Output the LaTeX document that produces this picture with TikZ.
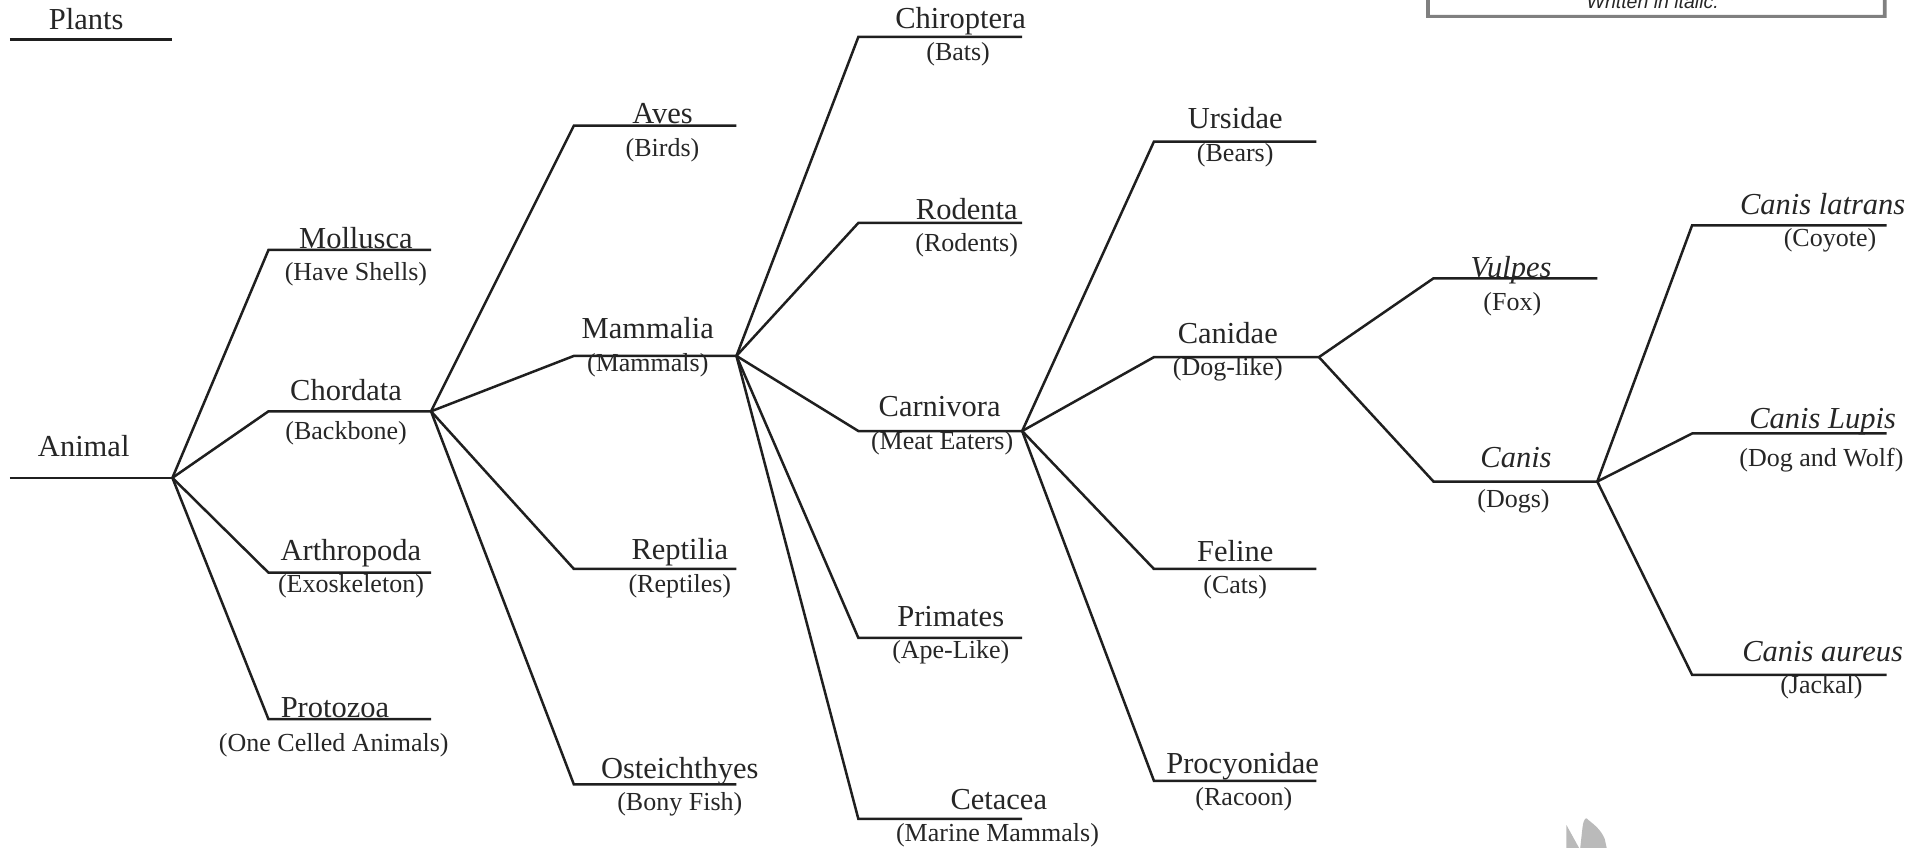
\documentclass[tikz,border=0pt]{standalone}
\usepackage{fontspec}
\setmainfont{Liberation Serif}
\newfontfamily\arialf{Liberation Sans}
\begin{document}
\begin{tikzpicture}[x=1.2315pt,y=-1.2315pt,
  branch/.style={line width=2.5pt, line join=miter, line cap=butt, draw=black!88},
  mainlbl/.style={font=\fontsize{30.5}{36}\selectfont, anchor=base, inner sep=0pt, text=black!85},
  sublbl/.style={font=\fontsize{26}{31}\selectfont, anchor=base, inner sep=0pt, text=black!85},
  ital/.style={font=\fontsize{30.5}{36}\selectfont\itshape}]
\useasboundingbox (0,0) rectangle (1568,688);

% ---- coordinates of the horizontal bars ----
\foreach \n/\y/\a/\b in {plants/32/8/140, animal/388/8/140,
  mollusca/203/218/350, chordata/334/218/350, arthropoda/465/218/350, protozoa/584/218/350,
  aves/102/466/598, mammalia/289/466/598, reptilia/462/466/598, osteichthyes/637/466/598,
  chiroptera/30/697/830, rodenta/181/697/830, carnivora/350/697/830, primates/518/697/830, cetacea/665/697/830,
  ursidae/115/937/1069, canidae/290/937/1071, feline/462/937/1069, procyonidae/634/937/1069,
  vulpes/226/1164/1297, canis/391/1164/1297,
  latrans/183/1374/1532, lupis/352/1374/1532, aureus/548/1374/1532}
  {\coordinate (\n-l) at (\a,\y); \coordinate (\n-r) at (\b,\y);}

% ---- bars ----
\draw[branch] (plants-l) -- (plants-r);
\draw[branch] (animal-l) -- (animal-r);
\foreach \p/\c in {animal/mollusca, animal/chordata, animal/arthropoda, animal/protozoa,
  chordata/aves, chordata/mammalia, chordata/reptilia, chordata/osteichthyes,
  mammalia/chiroptera, mammalia/rodenta, mammalia/carnivora, mammalia/primates, mammalia/cetacea,
  carnivora/ursidae, carnivora/canidae, carnivora/feline, carnivora/procyonidae,
  canidae/vulpes, canidae/canis,
  canis/latrans, canis/lupis, canis/aureus}
  {\draw[branch] (\p-r) -- (\c-l) -- (\c-r);}

% ---- labels ----
\node[mainlbl] (tPlants) at (70,24) {Plants};
\node[mainlbl] (tAnimal) at (68,371) {Animal};
\node[mainlbl] (tMollusca) at (289,202) {Mollusca};
\node[sublbl] (sMollusca) at (289,228) {(Have Shells)};
\node[mainlbl] (tChordata) at (281,325) {Chordata};
\node[sublbl] (sChordata) at (281,357) {(Backbone)};
\node[mainlbl] (tArthropoda) at (285,455) {Arthropoda};
\node[sublbl] (sArthropoda) at (285,481) {(Exoskeleton)};
\node[mainlbl] (tProtozoa) at (272,583) {Protozoa};
\node[sublbl] (sProtozoa) at (271,610) {(One Celled Animals)};

\node[mainlbl] (tAves) at (538,100) {Aves};
\node[sublbl] (sAves) at (538,127) {(Birds)};
\node[mainlbl] (tMammalia) at (526,275) {Mammalia};
\node[sublbl] (sMammalia) at (526,302) {(Mammals)};
\node[mainlbl] (tReptilia) at (552,454) {Reptilia};
\node[sublbl] (sReptilia) at (552,481) {(Reptiles)};
\node[mainlbl] (tOsteichthyes) at (552,632) {Osteichthyes};
\node[sublbl] (sOsteichthyes) at (552,658) {(Bony Fish)};

\node[mainlbl] (tChiroptera) at (780,23) {Chiroptera};
\node[sublbl] (sChiroptera) at (778,49) {(Bats)};
\node[mainlbl] (tRodenta) at (785,178) {Rodenta};
\node[sublbl] (sRodenta) at (785,204) {(Rodents)};
\node[mainlbl] (tCarnivora) at (763,338) {Carnivora};
\node[sublbl] (sCarnivora) at (765,365) {(Meat Eaters)};
\node[mainlbl] (tPrimates) at (772,509) {Primates};
\node[sublbl] (sPrimates) at (772,535) {(Ape-Like)};
\node[mainlbl] (tCetacea) at (811,657) {Cetacea};
\node[sublbl] (sCetacea) at (810,683) {(Marine Mammals)};

\node[mainlbl] (tUrsidae) at (1003,104) {Ursidae};
\node[sublbl] (sUrsidae) at (1003,131) {(Bears)};
\node[mainlbl] (tCanidae) at (997,279) {Canidae};
\node[sublbl] (sCanidae) at (997,305) {(Dog-like)};
\node[mainlbl] (tFeline) at (1003,456) {Feline};
\node[sublbl] (sFeline) at (1003,482) {(Cats)};
\node[mainlbl] (tProcyonidae) at (1009,628) {Procyonidae};
\node[sublbl] (sProcyonidae) at (1010,654) {(Racoon)};

\node[mainlbl,ital] (tVulpes) at (1227,225) {Vulpes};
\node[sublbl] (sVulpes) at (1228,252) {(Fox)};
\node[mainlbl,ital] (tCanis) at (1231,380) {Canis};
\node[sublbl] (sCanis) at (1229,412) {(Dogs)};

\node[mainlbl,ital] (tLatrans) at (1480,174) {Canis latrans};
\node[sublbl] (sLatrans) at (1486,200) {(Coyote)};
\node[mainlbl,ital] (tLupis) at (1480,348) {Canis Lupis};
\node[sublbl] (sLupis) at (1479,379) {(Dog and Wolf)};
\node[mainlbl,ital] (tAureus) at (1480,537) {Canis aureus};
\node[sublbl] (sAureus) at (1479,563) {(Jackal)};

% ---- legend box (cut by the top edge) ----
\fill[black!50, even odd rule] (1158,-6) rectangle (1532,14.5) (1161,-6) rectangle (1529,12);
\node[anchor=base, inner sep=0pt, font=\arialf\fontsize{19.5}{23}\selectfont\itshape, text=black!85] (legend) at (1342,7.3) {Written in italic.};

% ---- grey shape at the bottom edge ----
\fill[black!27] (1272,670) -- (1272,690) -- (1283,690) -- cycle;
\fill[black!27] (1283,690) -- (1285,672) .. controls (1286,664) and (1288,663) .. (1290,666)
  .. controls (1295,670) and (1300,674) .. (1303,681) -- (1305,690) -- cycle;
\end{tikzpicture}
\end{document}
